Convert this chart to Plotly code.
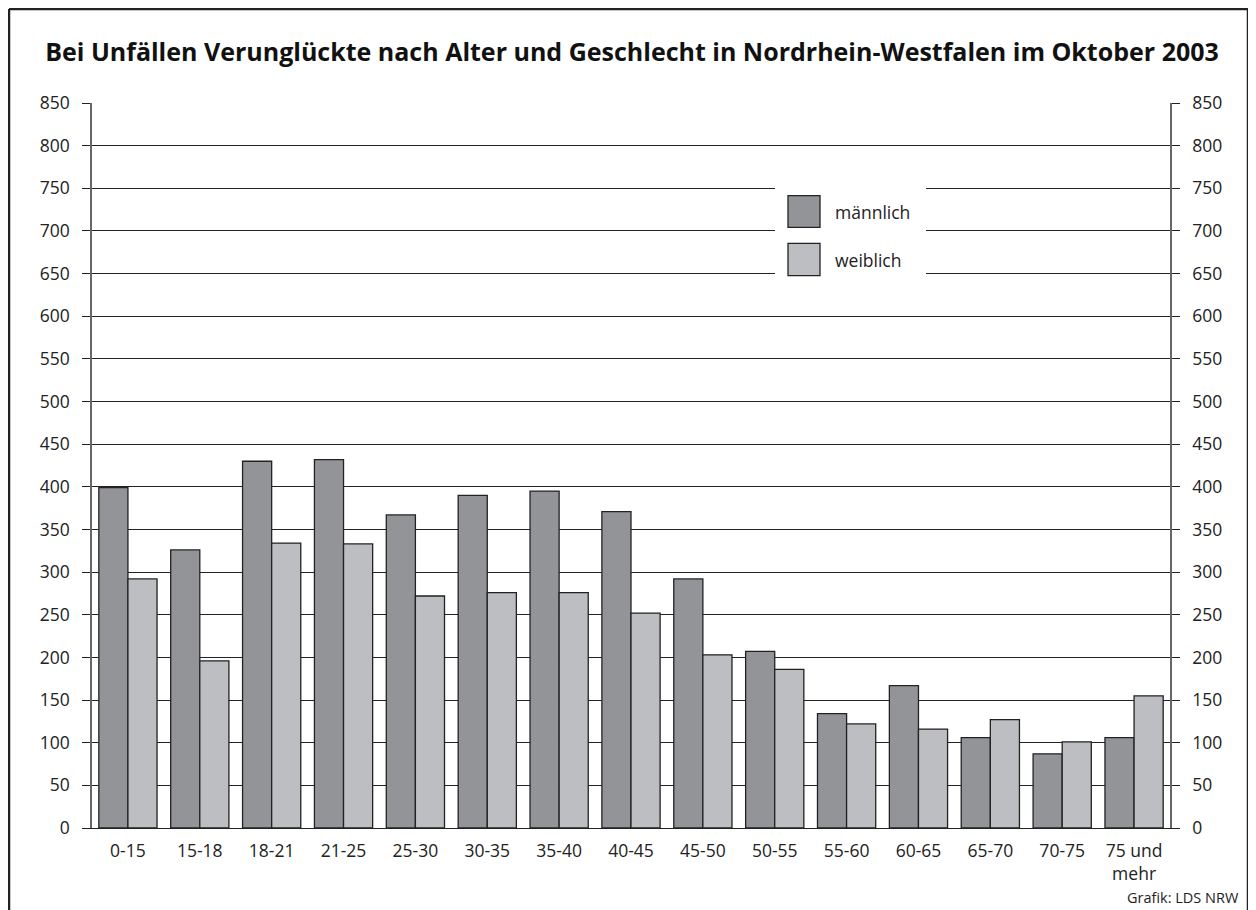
import plotly.graph_objects as go

categories = ["0-15", "15-18", "18-21", "21-25", "25-30", "30-35", "35-40", "40-45",
              "45-50", "50-55", "55-60", "60-65", "65-70", "70-75", "75 und<br>mehr"]
maennlich = [399, 326, 430, 432, 367, 390, 395, 371, 292, 207, 134, 167, 106, 87, 106]
weiblich = [292, 196, 334, 333, 272, 276, 276, 252, 203, 186, 122, 116, 127, 101, 155]
series_names = ["männlich", "weiblich"]
series_colors = ["#939498", "#bdbec2"]
y_ticks = list(range(0, 851, 50))

title = "Bei Unfällen Verunglückte nach Alter und Geschlecht in Nordrhein-Westfalen im Oktober 2003"
source = "Grafik: LDS NRW"

FONT = "Open Sans"
INK = "#222222"

# the page body has an 8px margin, so the figure is drawn 8px in from the window edge
W, H = 1248, 902
ML, MR, MT, MB = 84, 86, 95, 82
PW, PH = W - ML - MR, H - MT - MB   # 1078 x 725

def px(xpage):
    return (xpage - 8 - ML) / PW

def py(ypage):
    return (H - MB - (ypage - 8)) / PH

fig = go.Figure()
for name, vals, col in zip(series_names, [maennlich, weiblich], series_colors):
    fig.add_trace(go.Bar(
        x=categories, y=vals, name=name, showlegend=False,
        marker=dict(color=col, line=dict(color=INK, width=1.3)),
        hoverinfo="x+y+name",
    ))
# invisible trace to activate the right axis
fig.add_trace(go.Scatter(x=[categories[0]], y=[0], yaxis="y2", mode="markers",
                         marker=dict(opacity=0), showlegend=False, hoverinfo="skip"))

fig.update_layout(
    width=W, height=H,
    margin=dict(l=ML, r=MR, t=MT, b=MB),
    paper_bgcolor="white", plot_bgcolor="white",
    barmode="group", bargap=0.19, bargroupgap=0,
    font=dict(family=FONT, size=18, color=INK),
    title=dict(text="<b>" + title + "</b>", x=0.5, xref="container", xanchor="center",
               y=1 - 44 / H, yref="container", yanchor="middle",
               font=dict(family=FONT, size=25, color="#111111")),
    xaxis=dict(type="category", range=[-0.5, len(categories) - 0.5], autorange=False,
               showgrid=False, showline=True, linecolor=INK, linewidth=1.2,
               ticks="", tickfont=dict(size=17.5), ticklabelstandoff=7, zeroline=False),
    yaxis=dict(range=[0, 850], tickvals=y_ticks, showgrid=True, gridcolor=INK, gridwidth=1.1,
               showline=True, linecolor="#666666", linewidth=1.6, ticks="outside", ticklen=8,
               tickcolor=INK, tickwidth=1.1, ticklabelstandoff=9, zeroline=False,
               tickfont=dict(size=17.5)),
    yaxis2=dict(range=[0, 850], tickvals=y_ticks, overlaying="y", side="right", showgrid=False,
                showline=True, linecolor="#666666", linewidth=1.6, ticks="outside", ticklen=8,
                tickcolor=INK, tickwidth=1.1, ticklabelstandoff=9, zeroline=False,
                tickfont=dict(size=17.5)),
)

# legend box (manual, large swatches)
shapes = [
    dict(type="rect", xref="paper", yref="y", x0=px(775), x1=px(926), y0=638, y1=758,
         fillcolor="white", line=dict(width=0), layer="above"),
]
legend_rows = [(741.3, 704.2, 722.5), (685.5, 647.5, 666.5)]
annotations = []
for (ytop, ybot, ytxt), name, col in zip(legend_rows, series_names, series_colors):
    shapes.append(dict(type="rect", xref="paper", yref="y", x0=px(788), x1=px(820),
                       y0=ybot, y1=ytop, fillcolor=col, line=dict(color=INK, width=1.3),
                       layer="above"))
    annotations.append(dict(text=name, xref="paper", yref="y", x=px(833), y=ytxt,
                            xanchor="left", yanchor="middle", showarrow=False,
                            font=dict(size=17.5, color=INK)))

# outer frame (left, top, right)
fx0, fx1 = px(9), px(1248)
fy_top, fy_bot = py(9), py(930)
for x0, y0, x1, y1 in [(fx0, fy_bot, fx0, fy_top), (fx0, fy_top, fx1, fy_top), (fx1, fy_top, fx1, fy_bot)]:
    shapes.append(dict(type="line", xref="paper", yref="paper", x0=x0, y0=y0, x1=x1, y1=y1,
                       line=dict(color=INK, width=2.5), layer="above"))

annotations.append(dict(text=source, xref="paper", yref="paper",
                        x=px(1241), y=py(897),
                        xanchor="right", yanchor="middle", showarrow=False,
                        font=dict(size=14.5, color=INK)))

fig.update_layout(shapes=shapes, annotations=annotations)
fig.write_html("out.html")
